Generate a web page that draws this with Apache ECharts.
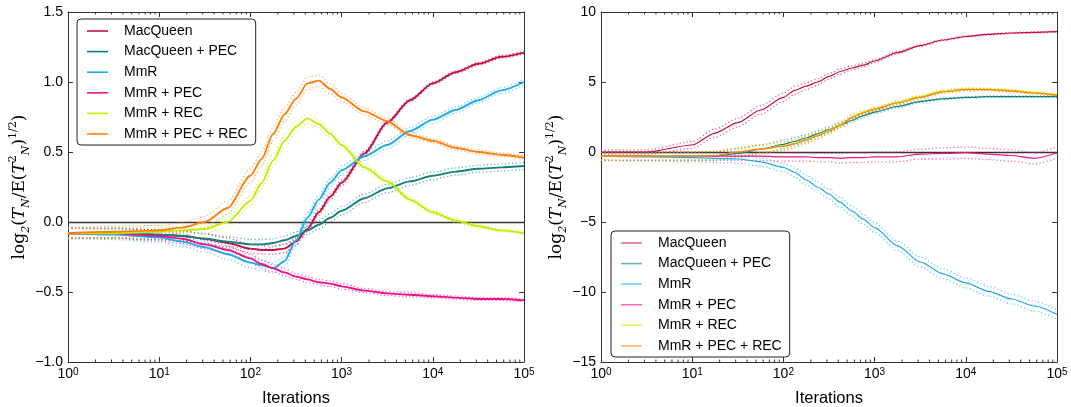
<!DOCTYPE html>
<html>
<head>
<meta charset="utf-8">
<script src="https://cdn.jsdelivr.net/npm/echarts@6/dist/echarts.min.js"></script>
<style>
html,body{margin:0;padding:0;background:#fff;}
#c{width:1071px;height:407px;}
</style>
</head>
<body>
<div id="c"></div>
<script>
// ---------------- DATA ----------------
const NAMES = ['MacQueen', 'MacQueen + PEC', 'MmR', 'MmR + PEC', 'MmR + REC', 'MmR + PEC + REC'];
const COLORS = ['#C40E48', '#138080', '#1EAAEE', '#EE1188', '#BFEF00', '#FF7F0E'];

const ITER = [1, 3.16, 10, 17.8, 31.6, 56.2, 100, 133, 178, 237, 316, 422, 562, 750, 1000, 1778, 3162, 5623, 10000, 17783, 31623, 56234, 100000];

const X_MAJOR_TICKS = [1, 10, 100, 1000, 10000, 100000];
const X_MINOR_TICKS = [2,3,4,5,6,7,8,9, 20,30,40,50,60,70,80,90, 200,300,400,500,600,700,800,900,
  2000,3000,4000,5000,6000,7000,8000,9000, 20000,30000,40000,50000,60000,70000,80000,90000];

// Left panel (mean values)
const L_MACQUEEN     = [-0.08,-0.08,-0.09,-0.10,-0.12,-0.15,-0.19,-0.20,-0.20,-0.19,-0.14,-0.05,0.07,0.18,0.28,0.49,0.71,0.87,0.99,1.07,1.13,1.18,1.21];
const L_MACQUEEN_PEC = [-0.08,-0.08,-0.09,-0.10,-0.12,-0.14,-0.16,-0.16,-0.15,-0.13,-0.10,-0.06,-0.02,0.03,0.08,0.17,0.24,0.29,0.33,0.36,0.38,0.39,0.40];
const L_MMR          = [-0.08,-0.09,-0.11,-0.14,-0.18,-0.23,-0.29,-0.31,-0.33,-0.28,-0.13,0.03,0.16,0.28,0.37,0.47,0.55,0.65,0.73,0.80,0.87,0.94,1.00];
const L_MMR_PEC      = [-0.08,-0.08,-0.10,-0.12,-0.16,-0.20,-0.26,-0.30,-0.33,-0.36,-0.39,-0.41,-0.43,-0.44,-0.46,-0.49,-0.51,-0.52,-0.53,-0.54,-0.55,-0.55,-0.56];
const L_MMR_REC      = [-0.08,-0.08,-0.07,-0.06,-0.05,0.00,0.15,0.28,0.44,0.58,0.68,0.74,0.70,0.63,0.55,0.39,0.29,0.16,0.07,0.01,-0.03,-0.06,-0.08];
const L_MMR_PEC_REC  = [-0.08,-0.07,-0.06,-0.04,0.00,0.10,0.33,0.45,0.63,0.77,0.88,0.99,1.01,0.95,0.89,0.79,0.72,0.62,0.58,0.53,0.50,0.48,0.46];

// Left panel (half-width of dotted bands)
const L_MACQUEEN_SP     = [0.035,0.035,0.035,0.035,0.035,0.035,0.03,0.03,0.03,0.03,0.025,0.02,0.02,0.02,0.02,0.015,0.012,0.01,0.01,0.01,0.01,0.01,0.01];
const L_MACQUEEN_PEC_SP = [0.035,0.035,0.035,0.035,0.035,0.035,0.035,0.035,0.03,0.03,0.03,0.03,0.03,0.03,0.03,0.03,0.03,0.028,0.027,0.026,0.025,0.025,0.025];
const L_MMR_SP          = [0.035,0.035,0.035,0.035,0.035,0.035,0.035,0.035,0.035,0.035,0.035,0.035,0.03,0.03,0.03,0.03,0.03,0.025,0.025,0.02,0.02,0.02,0.02];
const L_MMR_PEC_SP      = [0.035,0.035,0.035,0.035,0.03,0.03,0.03,0.03,0.025,0.025,0.02,0.02,0.02,0.02,0.02,0.015,0.015,0.015,0.012,0.012,0.01,0.01,0.01];
const L_MMR_REC_SP      = [0.035,0.035,0.03,0.03,0.03,0.035,0.04,0.045,0.045,0.045,0.04,0.035,0.03,0.03,0.025,0.02,0.02,0.015,0.015,0.012,0.012,0.01,0.01];
const L_MMR_PEC_REC_SP  = [0.04,0.04,0.035,0.035,0.04,0.045,0.05,0.05,0.05,0.05,0.045,0.045,0.04,0.035,0.03,0.025,0.02,0.02,0.015,0.015,0.015,0.012,0.012];

// Right panel (mean values)
const R_MACQUEEN     = [0.0,0.0,0.5,1.35,2.1,3.0,3.9,4.4,4.7,5.0,5.4,5.75,6.0,6.2,6.5,7.1,7.6,8.0,8.25,8.4,8.5,8.55,8.6];
const R_MACQUEEN_PEC = [-0.3,-0.3,-0.3,-0.28,-0.1,0.2,0.55,0.75,1.0,1.3,1.6,1.95,2.25,2.6,2.85,3.25,3.6,3.8,3.9,3.95,3.95,3.95,3.95];
const R_MMR          = [-0.3,-0.35,-0.4,-0.45,-0.5,-0.7,-1.1,-1.45,-2.0,-2.5,-3.0,-3.6,-4.2,-4.8,-5.4,-6.7,-7.85,-8.7,-9.35,-9.95,-10.5,-11.0,-11.6];
const R_MMR_PEC      = [-0.3,-0.3,-0.3,-0.3,-0.3,-0.3,-0.35,-0.35,-0.35,-0.4,-0.4,-0.45,-0.4,-0.4,-0.35,-0.35,-0.15,-0.1,-0.05,-0.15,-0.25,-0.45,-0.05];
const R_MMR_REC      = [-0.3,-0.3,-0.3,-0.25,0.0,0.22,0.45,0.62,0.9,1.2,1.55,1.95,2.5,2.85,3.1,3.55,3.95,4.35,4.5,4.5,4.4,4.25,4.1];
const R_MMR_PEC_REC  = [-0.3,-0.3,-0.3,-0.25,0.0,0.2,0.4,0.58,0.85,1.15,1.5,1.9,2.45,2.8,3.05,3.5,3.9,4.3,4.45,4.45,4.35,4.2,4.05];

// Right panel (half-width of dotted bands)
const R_MACQUEEN_SP     = [0.15,0.15,0.25,0.3,0.3,0.3,0.3,0.28,0.25,0.22,0.2,0.18,0.15,0.12,0.1,0.08,0.06,0.05,0.04,0.04,0.04,0.04,0.04];
const R_MACQUEEN_PEC_SP = [0.3,0.3,0.3,0.3,0.3,0.3,0.3,0.28,0.25,0.22,0.2,0.18,0.15,0.12,0.1,0.08,0.06,0.05,0.05,0.05,0.05,0.05,0.05];
const R_MMR_SP          = [0.3,0.3,0.3,0.3,0.3,0.3,0.3,0.32,0.35,0.35,0.35,0.35,0.35,0.35,0.35,0.35,0.35,0.35,0.35,0.35,0.35,0.35,0.35];
const R_MMR_PEC_SP      = [0.3,0.3,0.3,0.3,0.3,0.3,0.3,0.3,0.3,0.3,0.3,0.35,0.35,0.35,0.35,0.35,0.35,0.4,0.4,0.4,0.4,0.4,0.4];
const R_MMR_REC_SP      = [0.3,0.3,0.3,0.3,0.3,0.3,0.3,0.28,0.25,0.22,0.2,0.18,0.15,0.12,0.1,0.1,0.1,0.1,0.1,0.08,0.06,0.05,0.05];
const R_MMR_PEC_REC_SP  = [0.3,0.3,0.3,0.3,0.3,0.3,0.3,0.28,0.25,0.22,0.2,0.18,0.15,0.12,0.1,0.1,0.1,0.1,0.1,0.08,0.06,0.05,0.05];

const LEFT_MEANS = [L_MACQUEEN, L_MACQUEEN_PEC, L_MMR, L_MMR_PEC, L_MMR_REC, L_MMR_PEC_REC];
const LEFT_SPREADS = [L_MACQUEEN_SP, L_MACQUEEN_PEC_SP, L_MMR_SP, L_MMR_PEC_SP, L_MMR_REC_SP, L_MMR_PEC_REC_SP];
const RIGHT_MEANS = [R_MACQUEEN, R_MACQUEEN_PEC, R_MMR, R_MMR_PEC, R_MMR_REC, R_MMR_PEC_REC];
const RIGHT_SPREADS = [R_MACQUEEN_SP, R_MACQUEEN_PEC_SP, R_MMR_SP, R_MMR_PEC_SP, R_MMR_REC_SP, R_MMR_PEC_REC_SP];

const LEFT_Y = {min: -1.0, max: 1.5, interval: 0.5, digits: 1};
const RIGHT_Y = {min: -15, max: 10, interval: 5, digits: 0};

// ---------------- CHART ----------------
const chart = echarts.init(document.getElementById('c'), null, {renderer: 'canvas'});
const SANS = 'Liberation Sans, Arial, sans-serif';
const SERIF = 'DejaVu Serif, Liberation Serif, serif';
const AXIS_COLOR = '#333';

const yName = '{m|log}{s|2}{m|(}{i|T}{s|N}{m|/E(}{i|T}{p|2}{s|N}{m|)}{p|1/2}{m|)}';
const yNameRich = {
  m: {fontFamily: SERIF, fontSize: 17, lineHeight: 24, verticalAlign: 'middle', color: '#000'},
  i: {fontFamily: SERIF, fontSize: 17, lineHeight: 24, fontStyle: 'italic', verticalAlign: 'middle', color: '#000'},
  s: {fontFamily: SERIF, fontSize: 11, lineHeight: 11, fontStyle: 'italic', verticalAlign: 'bottom', color: '#000'},
  p: {fontFamily: SERIF, fontSize: 11, lineHeight: 11, verticalAlign: 'top', color: '#000'}
};

function fmtY(v, d) {
  const s = Math.abs(v).toFixed(d);
  return (v < 0 ? '\u2212' : '') + s;
}

const grids = [
  {left: 68, top: 12, width: 456, height: 350, containLabel: false, outerBoundsMode: 'none'},
  {left: 601, top: 12, width: 456, height: 350, containLabel: false, outerBoundsMode: 'none'}
];

const xAxes = [], yAxes = [], series = [];

[0, 1].forEach(function (g) {
  const yc = g === 0 ? LEFT_Y : RIGHT_Y;
  // bottom x
  xAxes.push({
    type: 'log', logBase: 10, gridIndex: g, min: 1, max: 100000, position: 'bottom',
    name: 'Iterations', nameLocation: 'middle', nameGap: 22,
    nameTextStyle: {fontFamily: SANS, fontSize: 16.5, color: '#000'},
    axisLine: {show: true, onZero: false, lineStyle: {color: AXIS_COLOR, width: 1}},
    axisTick: {show: true, inside: true, length: 5, lineStyle: {color: AXIS_COLOR}},
    splitLine: {show: false}, minorTick: {show: false},
    axisLabel: {
      margin: 5, color: '#000',
      formatter: function (v) { return '{b|10}{e|' + Math.round(Math.log10(v)) + '}'; },
      rich: {
        b: {fontFamily: SANS, fontSize: 14, lineHeight: 14, verticalAlign: 'bottom', color: '#000'},
        e: {fontFamily: SANS, fontSize: 10, lineHeight: 10, verticalAlign: 'top', padding: [0, 0, 8, 0], color: '#000'}
      }
    }
  });
  // top x
  xAxes.push({
    type: 'log', logBase: 10, gridIndex: g, min: 1, max: 100000, position: 'top',
    axisLine: {show: true, onZero: false, lineStyle: {color: AXIS_COLOR, width: 1}},
    axisTick: {show: true, inside: true, length: 5, lineStyle: {color: AXIS_COLOR}},
    axisLabel: {show: false}, splitLine: {show: false}
  });
  // left y
  yAxes.push({
    type: 'value', gridIndex: g, min: yc.min, max: yc.max, interval: yc.interval, position: 'left',
    name: yName, nameLocation: 'middle', nameRotate: 90, nameGap: g === 0 ? 27 : 25,
    nameTextStyle: {rich: yNameRich},
    axisLine: {show: true, onZero: false, lineStyle: {color: AXIS_COLOR, width: 1}},
    axisTick: {show: true, inside: true, length: 5, lineStyle: {color: AXIS_COLOR}},
    splitLine: {show: false},
    axisLabel: {margin: 5, fontFamily: SANS, fontSize: 14, color: '#000',
      formatter: function (v) { return fmtY(v, yc.digits); }}
  });
  // right y
  yAxes.push({
    type: 'value', gridIndex: g, min: yc.min, max: yc.max, interval: yc.interval, position: 'right',
    axisLine: {show: true, onZero: false, lineStyle: {color: AXIS_COLOR, width: 1}},
    axisTick: {show: true, inside: true, length: 5, lineStyle: {color: AXIS_COLOR}},
    axisLabel: {show: false}, splitLine: {show: false}
  });

  const xi = g * 2, yi = g * 2;
  const means = g === 0 ? LEFT_MEANS : RIGHT_MEANS;
  const spreads = g === 0 ? LEFT_SPREADS : RIGHT_SPREADS;
  const lw = g === 0 ? 1.9 : 1.2;

  NAMES.forEach(function (name, k) {
    const m = means[k], sp = spreads[k];
    const meanData = ITER.map(function (x, i) { return [x, m[i]]; });
    const hiData = ITER.map(function (x, i) { return [x, m[i] + sp[i]]; });
    const loData = ITER.map(function (x, i) { return [x, m[i] - sp[i]]; });
    [hiData, loData].forEach(function (d, j) {
      series.push({
        type: 'line', name: name + (j ? ' lo' : ' hi') + g, xAxisIndex: xi, yAxisIndex: yi,
        data: d, showSymbol: false, symbol: 'none', smooth: 0.25, smoothMonotone: 'x', silent: true,
        color: COLORS[k],
        lineStyle: {color: COLORS[k], width: 1.3, type: [1.2, 2.4], opacity: 0.65},
        z: 2
      });
    });
    const s = {
      type: 'line', name: name, xAxisIndex: xi, yAxisIndex: yi,
      data: meanData, showSymbol: false, symbol: 'none', smooth: 0.25, smoothMonotone: 'x', silent: true,
      color: COLORS[k],
      lineStyle: {color: COLORS[k], width: lw},
      z: 3
    };
    if (k === 0) {
      s.markLine = {
        silent: true, symbol: ['none', 'none'], label: {show: false},
        lineStyle: {color: '#333', width: 1.3, type: 'solid'},
        data: [{yAxis: 0}], z: 1, animation: false
      };
    }
    series.push(s);
  });

  // minor log ticks (bottom and top)
  series.push({
    type: 'custom', xAxisIndex: xi, yAxisIndex: yi, silent: true, z: 6, clip: false,
    data: X_MINOR_TICKS.map(function (v) { return [v, 0]; }),
    renderItem: function (params, api) {
      const cs = params.coordSys;
      const x = api.coord([api.value(0), 0])[0];
      const yb = cs.y + cs.height, yt = cs.y;
      return {type: 'group', children: [
        {type: 'line', shape: {x1: x, y1: yb, x2: x, y2: yb - 2.5}, style: {stroke: AXIS_COLOR, lineWidth: 1}},
        {type: 'line', shape: {x1: x, y1: yt, x2: x, y2: yt + 2.5}, style: {stroke: AXIS_COLOR, lineWidth: 1}}
      ]};
    }
  });
});

function legendFor(left, top, opacity) {
  return {
    orient: 'vertical', left: left, top: top,
    data: NAMES,
    icon: 'rect',
    itemWidth: 21, itemHeight: 1.6, itemGap: 6.6,
    padding: [5, 8, 4, 10],
    borderColor: '#222', borderWidth: 1, borderRadius: 4, backgroundColor: '#fff',
    itemStyle: {opacity: opacity},
    textStyle: {fontFamily: SANS, fontSize: 14, lineHeight: 14, color: '#000', padding: [0, 0, 0, 11]},
    selectedMode: false
  };
}

chart.setOption({
  animation: false,
  backgroundColor: '#fff',
  grid: grids,
  xAxis: xAxes,
  yAxis: yAxes,
  legend: [legendFor(77, 19, 1), legendFor(611, 231, 0.6)],
  series: series
});
</script>
</body>
</html>
